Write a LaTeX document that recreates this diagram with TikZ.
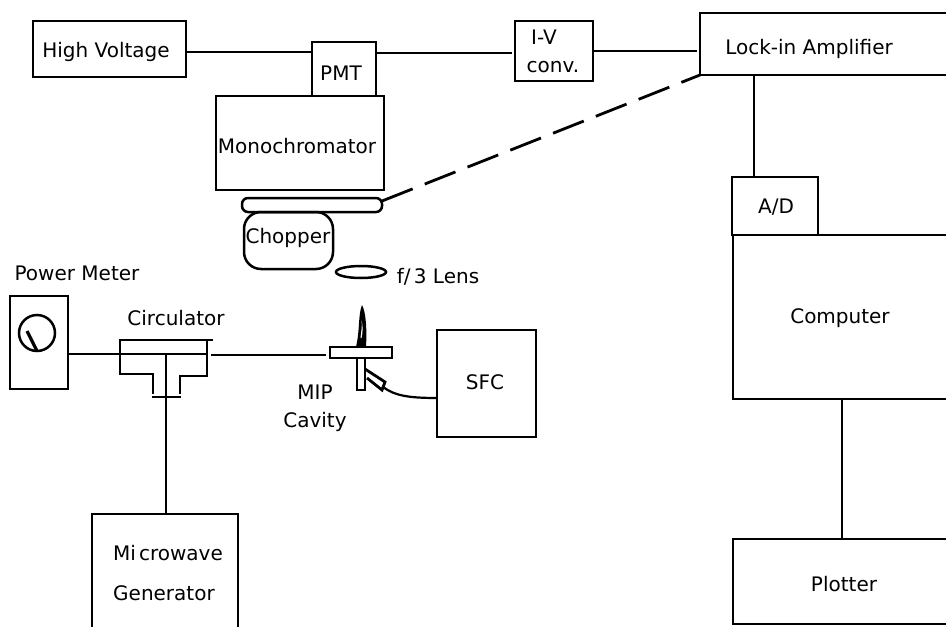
\documentclass[tikz,border=0pt]{standalone}
\usepackage{fontspec}
\setmainfont{DejaVu Sans}
\begin{document}
\begin{tikzpicture}[x=1pt,y=-1pt,
  ln/.style={line width=2.2pt,black},
  box/.style={draw,line width=2.5pt,inner sep=0pt,outer sep=0pt,anchor=north west,font=\fontsize{20}{25}\selectfont,align=center},
  lbl/.style={inner sep=0pt,font=\fontsize{20}{25}\selectfont,align=left}]
\useasboundingbox (0,0) rectangle (946,627);
\clip (0,0) rectangle (946,627);
\fill[white] (0,0) rectangle (946,627);
% top row
\node[box,minimum width=153pt,minimum height=56pt] (hv) at (33,21) {};
\node[lbl] (hvl) at (106,52) {High Voltage};
\node[box,minimum width=64pt,minimum height=54pt] (pmt) at (312,42) {};
\node[lbl] (pmtl) at (341,73) {PMT};
\node[box,minimum width=168pt,minimum height=94pt] (mono) at (216,96) {};
\node[lbl] (monol) at (297,146) {Monochromator};
\node[box,minimum width=78pt,minimum height=60pt] (iv) at (515,21) {};
\node[lbl,align=center,font=\fontsize{20}{28}\selectfont] (ivl) at (553,51) {\kern-18pt I-V\\conv.};
\node[box,minimum width=280pt,minimum height=62pt] (lock) at (700,13) {};
\node[lbl] (lockl) at (809,49) {Lock-in Amplifier};
% right column
\node[box,minimum width=86pt,minimum height=58pt] (ad) at (732,177) {};
\node[lbl] (adl) at (776,207) {A/D};
\node[box,minimum width=280pt,minimum height=164pt] (comp) at (733,235) {};
\node[lbl] (compl) at (840,318) {Computer};
\node[box,minimum width=280pt,minimum height=85pt] (plot) at (733,539) {};
\node[lbl] (plotl) at (844,584) {Plotter};
% chopper
\node[box,rounded corners=6pt,minimum width=140pt,minimum height=14pt] (bar) at (242,198) {};
\node[box,rounded corners=17pt,minimum width=89pt,minimum height=57pt] (chop) at (244,212) {};
\node[lbl] (chopl) at (288,238) {Chopper};
\draw[line width=2.5pt] (361,272) ellipse (25pt and 6pt);
\node[lbl] (lens) at (438,277) {f/\,3 Lens};
% power meter
\node[lbl] (pml) at (77,273) {Power Meter};
\node[box,minimum width=58pt,minimum height=93pt] (pm) at (10,296) {};
\draw[line width=2.5pt] (37,333) circle (18pt);
\draw[line width=3.2pt] (27,331) -- (37,351);
% circulator
\node[lbl] (circl) at (176,318) {Circulator};
\coordinate (circin) at (120,354);
\coordinate (circout) at (211,355);
\coordinate (circt) at (166,354);
\coordinate (circb) at (166,397);
\draw[line width=2.5pt] (213,340) -- (120,340) -- (120,374) -- (153,374) -- (153,394);
\draw[line width=2.5pt] (207,340) -- (207,376) -- (180,376) -- (180,394);
\draw[line width=2.8pt] (152,397) -- (181,397);
% MIP cavity
\node[box,minimum width=62pt,minimum height=11pt] (cav) at (330,347) {};
\node[box,minimum width=8pt,minimum height=32pt] (stem) at (357,358) {};
\fill[black] (356,347) .. controls (360,330) and (358,315) .. (362,305) .. controls (366,312) and (367,330) .. (366,347) -- cycle;
\fill[white] (361.5,320) .. controls (362.5,326) and (361,332) .. (360.5,338) -- (361.5,338) .. controls (363,332) and (363,326) .. (361.5,320) -- cycle;
\draw[line width=2.8pt] (365,369) -- (385,382) -- (382,390) -- (367,378);
\node[lbl,align=center,font=\fontsize{20}{28}\selectfont] (mipl) at (315,408) {MIP\\Cavity};
\node[box,minimum width=99pt,minimum height=107pt] (sfc) at (437,330) {};
\node[lbl] (sfcl) at (485,382) {SFC};
\node[box,minimum width=146pt,minimum height=130pt] (mw) at (92,514) {};
\node[lbl,font=\fontsize{20}{40}\selectfont] (mwl) at (168,573) {Mi\kern3pt crowave\\Generator};
% connectors
\draw[ln] (hv.east |- 0,52) -- (pmt.west |- 0,52);
\draw[ln] (pmt.east |- 0,53) -- (512,53);
\draw[ln] (iv.east |- 0,51) -- (697,51);
\draw[ln] (754,75) -- (754,177);
\draw[ln] (842,399) -- (842,539);
\draw[line width=2.8pt,dash pattern=on 33pt off 13pt] (bar.north east |- 0,201) -- (lock.south west);
\draw[line width=2.6pt] (pm.east |- circin) -- (circin) -- (circt) -- (207,354);
\draw[line width=2.6pt] (circt) -- (circb) -- (mw.north -| circb);
\draw[ln] (circout) -- (326,355);
\draw[line width=2.2pt] (383,387) .. controls (395,396) and (410,398) .. (sfc.west |- 0,398);
\end{tikzpicture}
\end{document}
